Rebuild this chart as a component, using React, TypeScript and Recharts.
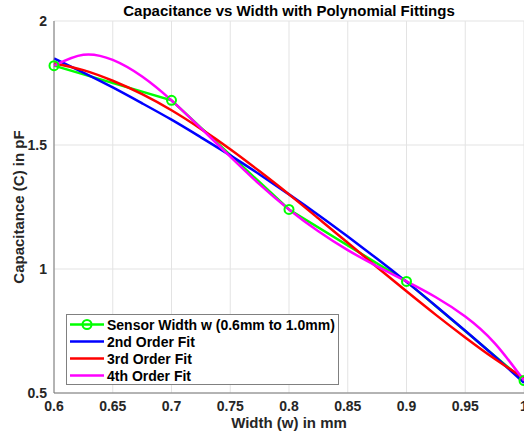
import React from "react"
import { LineChart, Line, XAxis, YAxis, CartesianGrid } from "recharts"

// measured sensor points
const sensorW = [0.6, 0.7, 0.8, 0.9, 1.0]
const sensorC = [1.82, 1.68, 1.24, 0.95, 0.55]

// fitted curves, every 0.025 mm
const fitW = [
  0.6, 0.625, 0.65, 0.675, 0.7, 0.725, 0.75, 0.775, 0.8, 0.825, 0.85, 0.875,
  0.9, 0.925, 0.95, 0.975, 1.0,
]
const fit2 = [
  1.849, 1.792, 1.732, 1.668, 1.602, 1.531, 1.458, 1.381, 1.301, 1.218, 1.131,
  1.041, 0.948, 0.851, 0.751, 0.648, 0.541,
]
const fit3 = [
  1.83, 1.802, 1.759, 1.705, 1.64, 1.565, 1.483, 1.394, 1.301, 1.204, 1.106,
  1.007, 0.91, 0.815, 0.724, 0.638, 0.56,
]
const fit4 = [
  1.82, 1.864, 1.843, 1.776, 1.68, 1.568, 1.453, 1.341, 1.24, 1.152, 1.076,
  1.011, 0.95, 0.886, 0.808, 0.701, 0.55,
]

const xTicks = [0.6, 0.65, 0.7, 0.75, 0.8, 0.85, 0.9, 0.95, 1]
const yTicks = [0.5, 1, 1.5, 2]

const GREEN = "#00ff00"
const BLUE = "#0000ff"
const RED = "#ff0000"
const MAGENTA = "#ff00ff"
const FONT = "'Liberation Sans', Arial, sans-serif"

const legendItems = [
  { label: "Sensor Width w (0.6mm to 1.0mm)", color: GREEN, marker: true },
  { label: "2nd Order Fit", color: BLUE, marker: false },
  { label: "3rd Order Fit", color: RED, marker: false },
  { label: "4th Order Fit", color: MAGENTA, marker: false },
]

const data = fitW.map((w, i) => {
  const k = sensorW.findIndex((s) => Math.abs(s - w) < 1e-9)
  return {
    w,
    sensor: k >= 0 ? sensorC[k] : null,
    fit2: fit2[i],
    fit3: fit3[i],
    fit4: fit4[i],
  }
})

// legend drawn as an overlay so it doesn't eat into the plot area
function FitLegend() {
  return (
    <div
      style={{
        position: "absolute",
        left: 66,
        top: 314,
        width: 271,
        height: 68,
        border: "1px solid #808080",
        background: "#fff",
        fontFamily: FONT,
        fontWeight: 700,
        fontSize: 14,
        color: "#000",
        paddingTop: 1,
      }}
    >
      {legendItems.map((it) => (
        <div
          key={it.label}
          style={{ display: "flex", alignItems: "center", height: 17 }}
        >
          <svg width={40} height={17} style={{ flex: "none" }}>
            <line x1={3} y1={8.5} x2={37} y2={8.5} stroke={it.color} strokeWidth={2.5} />
            {it.marker && (
              <circle cx={20} cy={8.5} r={4.5} fill="none" stroke={it.color} strokeWidth={2} />
            )}
          </svg>
          <span style={{ whiteSpace: "nowrap" }}>{it.label}</span>
        </div>
      ))}
    </div>
  )
}

const tickStyle = { fontFamily: FONT, fontWeight: 700, fontSize: 14, fill: "#262626" }

export default function App() {
  return (
    <div style={{ position: "relative", width: 524, height: 436, background: "#fff" }}>
      <style>{"body{margin:0}"}</style>
      <LineChart
        width={524}
        height={436}
        data={data}
        margin={{ top: 21, right: 0, left: 0, bottom: 0 }}
      >
        <CartesianGrid stroke="#e3e3e3" />
        <XAxis
          dataKey="w"
          type="number"
          domain={[0.6, 1]}
          ticks={xTicks}
          tick={tickStyle}
          tickLine={false}
          tickSize={6}
          stroke="#777"
          height={43}
          interval={0}
        />
        <YAxis
          type="number"
          domain={[0.5, 2]}
          ticks={yTicks}
          tick={tickStyle}
          tickLine={false}
          tickSize={5}
          stroke="#777"
          width={54}
          interval={0}
        />
        <Line
          dataKey="sensor"
          stroke={GREEN}
          strokeWidth={2.5}
          connectNulls
          type="linear"
          dot={{ r: 4.5, stroke: GREEN, strokeWidth: 2, fill: "none" }}
          isAnimationActive={false}
        />
        <Line dataKey="fit2" stroke={BLUE} strokeWidth={2.5} type="natural" dot={false} isAnimationActive={false} />
        <Line dataKey="fit3" stroke={RED} strokeWidth={2.5} type="natural" dot={false} isAnimationActive={false} />
        <Line dataKey="fit4" stroke={MAGENTA} strokeWidth={2.5} type="natural" dot={false} isAnimationActive={false} />
      </LineChart>
      <FitLegend />
      <div
        style={{
          position: "absolute",
          left: 54,
          width: 470,
          top: 2,
          textAlign: "center",
          fontFamily: FONT,
          fontWeight: 700,
          fontSize: 15,
          color: "#000",
        }}
      >
        Capacitance vs Width with Polynomial Fittings
      </div>
      <div
        style={{
          position: "absolute",
          left: 54,
          width: 470,
          top: 414,
          textAlign: "center",
          fontFamily: FONT,
          fontWeight: 700,
          fontSize: 15,
          color: "#262626",
        }}
      >
        Width (w) in mm
      </div>
      <div
        style={{
          position: "absolute",
          left: 18,
          top: 207,
          transform: "translate(-50%, -50%) rotate(-90deg)",
          whiteSpace: "nowrap",
          fontFamily: FONT,
          fontWeight: 700,
          fontSize: 15,
          color: "#262626",
        }}
      >
        Capacitance (C) in pF
      </div>
    </div>
  )
}
